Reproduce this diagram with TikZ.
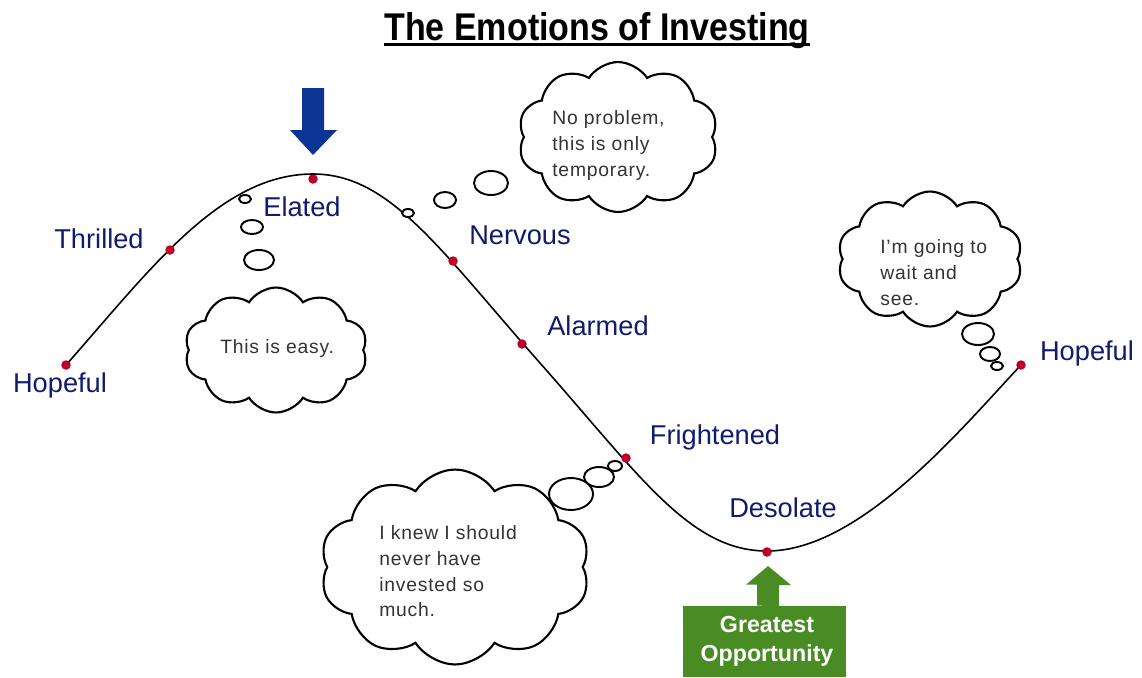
\documentclass[tikz,border=0pt]{standalone}
\usepackage{fontspec}
\setmainfont{Liberation Sans}
\newfontfamily\titlefont[FakeStretch=0.88]{Liberation Sans}
\newfontfamily\thinkfont[LetterSpace=4]{Liberation Sans}
\usetikzlibrary{shapes.symbols,positioning}
\definecolor{moodblue}{RGB}{16,26,110}
\definecolor{dotred}{RGB}{190,0,40}
\definecolor{peakblue}{RGB}{12,52,148}
\definecolor{chancegreen}{RGB}{74,140,36}
\definecolor{thinkgray}{RGB}{51,51,51}

\begin{document}
\begin{tikzpicture}[x=0.02cm,y=-0.02cm]
\tikzstyle{every node}=[inner sep=0pt]
\tikzstyle{mood}=[font=\fontsize{15.5}{18}\selectfont, text=moodblue, anchor=base]
\tikzstyle{dot}=[circle, fill=dotred, minimum size=0.19cm]
\tikzstyle{thought}=[cloud, draw, line width=1.2pt, cloud puffs=10, cloud puff arc=115, cloud ignores aspect]
\tikzstyle{bubble}=[draw, line width=1.1pt, fill=white]
\tikzstyle{words}=[font=\thinkfont\fontsize{11}{14.7}\selectfont, text=thinkgray, align=left]
\useasboundingbox (0,0) rectangle (1142,677);

% title
\node[font=\titlefont\bfseries\fontsize{22}{26}\selectfont, anchor=base] (title) at (597,40) {The Emotions of Investing};
\draw[line width=1.6pt] ([yshift=-0.09cm]title.base west) -- ([yshift=-0.09cm]title.base east);

% the market cycle
\coordinate (startL) at (66,365);
\coordinate (top) at (313,174);
\coordinate (mid) at (540,363);
\coordinate (bottom) at (767,551);
\coordinate (endR) at (1021,365);
\draw[line width=0.9pt] (startL) .. controls (150,270) and (220,174) .. (top)
  .. controls (390,174) and (440,250) .. (mid)
  .. controls (640,476) and (690,551) .. (bottom)
  .. controls (860,551) and (960,430) .. (endR);

% thought clouds (drawn before the dots)
\node[thought, minimum width=3.66cm, minimum height=2.5cm] (easy) at (276,350) {};
\node[thought, minimum width=4.0cm, minimum height=3.0cm] (noproblem) at (618,137) {};
\node[thought, minimum width=3.7cm, minimum height=2.7cm] (wait) at (930,259) {};
\node[thought, minimum width=5.4cm, minimum height=3.9cm] (knew) at (455,567) {};

\draw[bubble] (245,199) ellipse [x radius=6, y radius=4];
\draw[bubble] (252,227) ellipse [x radius=11, y radius=7];
\draw[bubble] (259,260) ellipse [x radius=15, y radius=10];
\draw[bubble] (408,213) ellipse [x radius=6, y radius=4];
\draw[bubble] (445,200) ellipse [x radius=11, y radius=8];
\draw[bubble] (491,183) ellipse [x radius=17, y radius=12];
\draw[bubble] (978,334) ellipse [x radius=16, y radius=11];
\draw[bubble] (990,354) ellipse [x radius=10, y radius=7];
\draw[bubble] (997,366) ellipse [x radius=6, y radius=4];
\draw[bubble] (571,494) ellipse [x radius=22, y radius=16];
\draw[bubble] (599,477) ellipse [x radius=15, y radius=10];
\draw[bubble] (615,466) ellipse [x radius=7, y radius=5];

\node[words, anchor=base west] (easytext) at (220,353) {This is easy.};
\node[words, anchor=north west] (noproblemtext) at (552,110) {No problem,\\this is only\\temporary.};
\node[words, anchor=north west] (waittext) at (880,239) {I’m going to\\wait and\\see.};
\node[words, anchor=north west] (knewtext) at (379,525) {I knew I should\\never have\\invested so\\much.};

% dots and moods
\node[dot] (hopeL) at (66,365) {};
\node[dot] (thrilled) at (170,250) {};
\node[dot] (elated) at (313,179) {};
\node[dot] (nervous) at (453,261) {};
\node[dot] (alarmed) at (522,344) {};
\node[dot] (frightened) at (626,458) {};
\node[dot] (desolate) at (767,552) {};
\node[dot] (hopeR) at (1021,365) {};

\node[mood] at (60,392) {Hopeful};
\node[mood] at (99,248) {Thrilled};
\node[mood] at (302,216) {Elated};
\node[mood] at (520,244) {Nervous};
\node[mood] at (598,335) {Alarmed};
\node[mood] at (715,444) {Frightened};
\node[mood] at (783,517) {Desolate};
\node[mood] at (1087,360) {Hopeful};

% arrows
\fill[peakblue] (302,88) -- (324,88) -- (324,130) -- (337,130) -- (313,155) -- (290,130) -- (302,130) -- cycle;
\node[fill=chancegreen, minimum width=3.26cm, minimum height=1.42cm] (chance) at (764.5,641.5) {};
\fill[chancegreen] (chance.north) ++(-0.15cm,0) -- ++(0,0.42cm) -- ++(-0.22cm,0) -- (768,566) -- (791,585) -- ++(-0.24cm,0) -- ++(0,-0.42cm) -- cycle;
\node[font=\bfseries\fontsize{13.2}{16.6}\selectfont, text=white, align=center] at (767,641) {Greatest\\Opportunity};
\end{tikzpicture}
\end{document}
